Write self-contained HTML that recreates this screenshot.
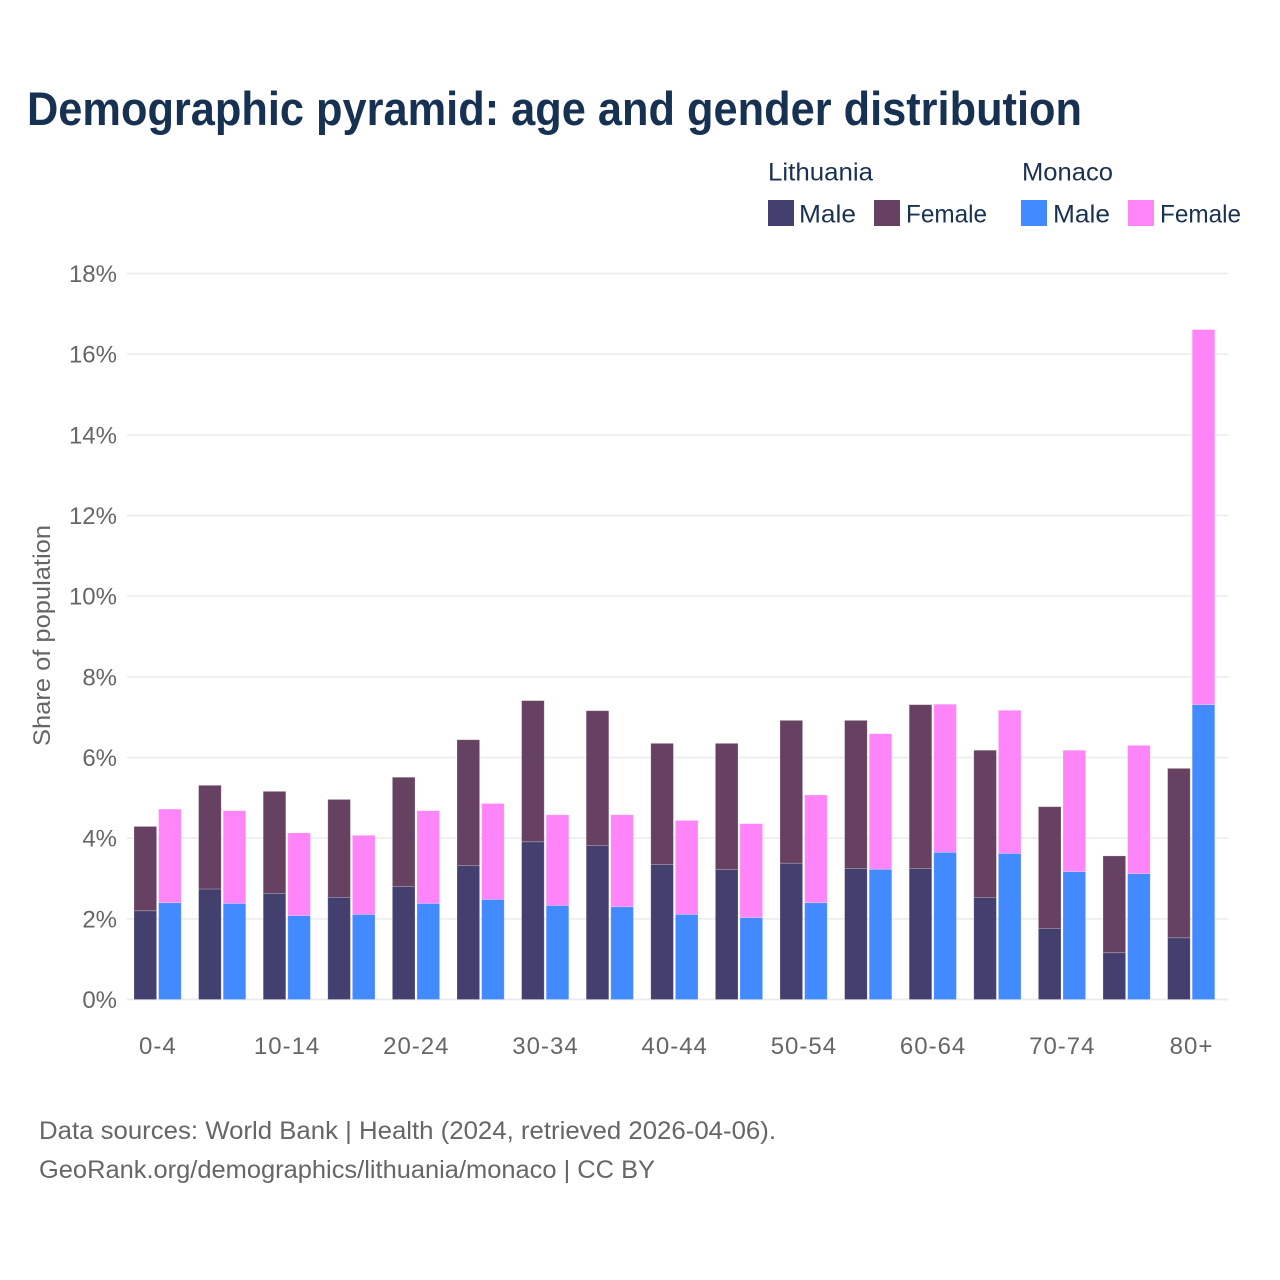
<!DOCTYPE html>
<html lang="en">
<head>
<meta charset="utf-8">
<title>Demographic pyramid: age and gender distribution</title>
<style>
  html, body { margin: 0; padding: 0; background: #ffffff; }
  svg { display: block; font-family: "Liberation Sans", sans-serif; }
  .legend-text { fill: #1a3152; font-size: 25px; }
  .muted { fill: #666666; }
</style>
</head>
<body>
<svg id="chart" xmlns="http://www.w3.org/2000/svg" width="1280" height="1280" viewBox="0 0 1280 1280">
  <rect x="0" y="0" width="1280" height="1280" fill="#ffffff"/>
  <text x="27" y="125" font-size="47" font-weight="700" fill="#173152" textLength="1055" lengthAdjust="spacingAndGlyphs">Demographic pyramid: age and gender distribution</text>

  <g>
    <text class="legend-text" x="768" y="180.5" textLength="105" lengthAdjust="spacingAndGlyphs">Lithuania</text>
    <text class="legend-text" x="1022" y="180.5" textLength="91" lengthAdjust="spacingAndGlyphs">Monaco</text>
    <rect x="768" y="200" width="26" height="26" fill="#433f6f"/>
    <text class="legend-text" x="799" y="222.5" textLength="57" lengthAdjust="spacingAndGlyphs">Male</text>
    <rect x="874" y="200" width="26" height="26" fill="#674161"/>
    <text class="legend-text" x="906" y="222.5" textLength="81" lengthAdjust="spacingAndGlyphs">Female</text>
    <rect x="1021" y="200" width="26" height="26" fill="#418aff"/>
    <text class="legend-text" x="1053" y="222.5" textLength="57" lengthAdjust="spacingAndGlyphs">Male</text>
    <rect x="1128" y="200" width="26" height="26" fill="#ff85f8"/>
    <text class="legend-text" x="1160" y="222.5" textLength="81" lengthAdjust="spacingAndGlyphs">Female</text>
  </g>

  <g id="grid"></g>
  <g id="bars"></g>
  <g id="yticks"></g>
  <g id="xticks"></g>

  <text class="muted" font-size="24" transform="translate(50,746) rotate(-90)" x="0" y="0" textLength="221" lengthAdjust="spacingAndGlyphs">Share of population</text>

  <text class="muted" font-size="25" x="39" y="1139" textLength="737" lengthAdjust="spacingAndGlyphs">Data sources: World Bank | Health (2024, retrieved 2026-04-06).</text>
  <text class="muted" font-size="25" x="39" y="1178" textLength="616" lengthAdjust="spacingAndGlyphs">GeoRank.org/demographics/lithuania/monaco | CC BY</text>
</svg>
<script>
const categories = ["0-4","5-9","10-14","15-19","20-24","25-29","30-34","35-39","40-44","45-49","50-54","55-59","60-64","65-69","70-74","75-79","80+"];
const xTickLabels = ["0-4","10-14","20-24","30-34","40-44","50-54","60-64","70-74","80+"];
const yTickValues = [0,2,4,6,8,10,12,14,16,18];
const lithuaniaMale = [2.20,2.74,2.63,2.53,2.80,3.32,3.91,3.82,3.35,3.22,3.38,3.25,3.25,2.53,1.76,1.16,1.53];
const lithuaniaFemale = [2.09,2.57,2.53,2.43,2.71,3.12,3.50,3.34,3.00,3.13,3.54,3.67,4.06,3.65,3.02,2.40,4.20];
const monacoMale = [2.40,2.38,2.08,2.11,2.38,2.48,2.33,2.30,2.11,2.03,2.40,3.23,3.65,3.62,3.17,3.12,7.31];
const monacoFemale = [2.32,2.30,2.05,1.96,2.30,2.38,2.25,2.28,2.33,2.33,2.67,3.36,3.67,3.55,3.01,3.18,9.30];

const NS = "http://www.w3.org/2000/svg";
const COLORS = { lm: "#433f6f", lf: "#674161", mm: "#418aff", mf: "#ff85f8" };
const BAR_WIDTH = 22.6;
const BAR_GAP = 2;

function yScale(v) { return 999.5 - v * (726 / 18); }
function xCenter(i) { return 157.6 + i * 64.6; }

function make(tag, attrs, parent) {
  const el = document.createElementNS(NS, tag);
  for (const k in attrs) el.setAttribute(k, attrs[k]);
  parent.appendChild(el);
  return el;
}

const gridG = document.getElementById("grid");
const barsG = document.getElementById("bars");
const yG = document.getElementById("yticks");
const xG = document.getElementById("xticks");

yTickValues.forEach(function (v) {
  const line = make("line", { x1: 127, x2: 1228.5, y1: yScale(v), y2: yScale(v), stroke: "#ebebeb", "stroke-width": v === 0 ? 2 : 1.5 }, gridG);
  
  
  const label = make("text", { x: 117, y: yScale(v) + 8.5, "text-anchor": "end", "font-size": 24, fill: "#666666" }, yG);
  
  
  label.textContent = v + "%";
});

function stacked(x, base, top, colorBase, colorTop, nameBase, nameTop) {
  const yBase = yScale(base);
  const yTotal = yScale(base + top);
  const lower = make("rect", { x: x, y: yBase, width: BAR_WIDTH, height: yScale(0) - yBase, fill: colorBase, stroke: "#ffffff", "stroke-opacity": 0.3, "stroke-width": 0.7 }, barsG);
  
  
  const upper = make("rect", { x: x, y: yTotal, width: BAR_WIDTH, height: yBase - yTotal, fill: colorTop, stroke: "#ffffff", "stroke-opacity": 0.3, "stroke-width": 0.7 }, barsG);
  
  
}

categories.forEach(function (cat, i) {
  const c = xCenter(i);
  stacked(c - BAR_GAP / 2 - BAR_WIDTH, lithuaniaMale[i], lithuaniaFemale[i], COLORS.lm, COLORS.lf, "bar-lithuania-male-" + cat, "bar-lithuania-female-" + cat);
  stacked(c + BAR_GAP / 2, monacoMale[i], monacoFemale[i], COLORS.mm, COLORS.mf, "bar-monaco-male-" + cat, "bar-monaco-female-" + cat);
  if (xTickLabels.indexOf(cat) !== -1) {
    const t = make("text", { x: c + 0.3, y: 1054, "text-anchor": "middle", "font-size": 24, "letter-spacing": 1, fill: "#666666" }, xG);
    
    
    t.textContent = cat;
  }
});
</script>
</body>
</html>
